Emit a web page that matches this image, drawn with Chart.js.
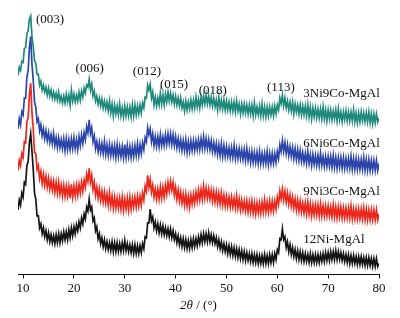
<!DOCTYPE html>
<html>
<head>
<meta charset="utf-8">
<script src="https://cdn.jsdelivr.net/npm/chart.js@4.4.1/dist/chart.umd.min.js"></script>
<style>
  body { margin: 0; background: #fff; }
  canvas { display: block; }
</style>
</head>
<body>
<canvas id="xrd" width="400" height="318"></canvas>
<script>
// 2θ grid of the traces: 9° .. 80° every 0.25°
const thetaStart = 9;
const thetaStep = 0.25;

// stacked intensities (offset already included), one row per degree
const ni3co9 = [
  201, 209, 206, 215,
  214, 228, 229, 243,
  246, 258, 261, 240,
  230, 216, 213, 202,
  202, 191, 195, 186,
  191, 184, 189, 181,
  188, 180, 186, 178,
  184, 177, 183, 176,
  184, 175, 180, 173,
  180, 173, 182, 174,
  181, 171, 186, 175,
  182, 174, 181, 175,
  184, 176, 185, 179,
  188, 183, 191, 189,
  197, 186, 192, 180,
  185, 175, 180, 172,
  178, 170, 177, 168,
  175, 167, 174, 165,
  175, 163, 172, 160,
  171, 162, 170, 161,
  172, 160, 168, 159,
  170, 160, 169, 160,
  169, 159, 171, 160,
  171, 161, 170, 162,
  171, 163, 173, 168,
  179, 178, 191, 186,
  192, 178, 184, 171,
  179, 170, 178, 171,
  183, 172, 181, 171,
  182, 174, 184, 175,
  183, 174, 181, 172,
  180, 171, 178, 170,
  178, 168, 174, 165,
  175, 166, 174, 167,
  176, 167, 176, 168,
  179, 169, 177, 168,
  179, 171, 180, 172,
  181, 172, 180, 171,
  179, 170, 178, 169,
  176, 166, 179, 168,
  176, 167, 176, 166,
  175, 166, 174, 165,
  174, 165, 174, 164,
  175, 165, 172, 162,
  172, 163, 172, 163,
  171, 162, 171, 162,
  171, 160, 173, 161,
  169, 161, 170, 160,
  172, 160, 169, 159,
  169, 160, 169, 161,
  169, 160, 170, 162,
  171, 166, 178, 172,
  181, 170, 178, 168,
  175, 166, 174, 165,
  174, 162, 172, 164,
  171, 162, 171, 161,
  170, 161, 170, 160,
  171, 159, 169, 157,
  168, 159, 168, 158,
  167, 158, 167, 157,
  169, 157, 166, 155,
  166, 157, 166, 156,
  165, 157, 166, 155,
  167, 156, 164, 154,
  164, 156, 165, 155,
  164, 155, 164, 155,
  166, 154, 163, 153,
  163, 154, 164, 155,
  163, 154, 163, 154,
  164, 153, 162, 152,
  162, 153, 162, 154,
  158
];

const ni6co6 = [
  147, 157, 151, 164,
  161, 178, 178, 199,
  206, 229, 240, 212,
  196, 174, 169, 154,
  157, 145, 151, 140,
  147, 137, 145, 135,
  143, 133, 141, 132,
  142, 130, 138, 128,
  138, 128, 136, 127,
  137, 125, 137, 126,
  136, 126, 137, 127,
  138, 127, 136, 126,
  139, 130, 141, 132,
  143, 136, 149, 143,
  156, 142, 148, 134,
  140, 127, 134, 124,
  133, 123, 132, 122,
  134, 121, 131, 120,
  131, 120, 130, 120,
  130, 118, 131, 119,
  129, 119, 129, 118,
  131, 118, 130, 119,
  129, 118, 129, 119,
  130, 120, 132, 120,
  131, 122, 133, 126,
  138, 134, 148, 141,
  147, 134, 142, 130,
  139, 129, 139, 129,
  141, 130, 139, 130,
  141, 131, 142, 132,
  142, 131, 141, 130,
  139, 128, 137, 127,
  136, 125, 135, 125,
  136, 123, 134, 124,
  135, 125, 135, 125,
  135, 126, 136, 126,
  137, 127, 139, 127,
  137, 127, 136, 126,
  135, 124, 133, 123,
  132, 121, 131, 120,
  132, 119, 130, 119,
  129, 119, 128, 118,
  128, 118, 130, 117,
  127, 117, 127, 117,
  126, 116, 126, 115,
  127, 115, 124, 113,
  124, 113, 123, 113,
  123, 112, 124, 112,
  122, 112, 122, 112,
  124, 111, 122, 112,
  122, 112, 122, 113,
  124, 117, 131, 124,
  135, 124, 133, 122,
  131, 120, 129, 119,
  128, 117, 127, 116,
  126, 115, 125, 114,
  123, 113, 122, 112,
  124, 112, 121, 110,
  121, 111, 120, 110,
  120, 110, 122, 110,
  119, 109, 119, 109,
  119, 109, 119, 108,
  120, 108, 118, 107,
  118, 108, 118, 107,
  118, 107, 117, 107,
  117, 107, 119, 106,
  117, 106, 117, 106,
  116, 106, 116, 106,
  118, 105, 116, 105,
  116, 105, 115, 105,
  115, 105, 115, 105,
  112
];

const ni9co3 = [
  105, 115, 110, 122,
  118, 134, 133, 154,
  158, 182, 193, 163,
  147, 123, 122, 106,
  110, 97, 104, 92,
  101, 90, 99, 88,
  97, 86, 95, 85,
  94, 83, 93, 82,
  93, 81, 90, 79,
  90, 79, 89, 79,
  89, 77, 91, 78,
  89, 79, 90, 80,
  91, 82, 93, 84,
  95, 88, 101, 94,
  107, 93, 100, 86,
  93, 80, 88, 77,
  86, 75, 84, 73,
  83, 72, 81, 70,
  82, 69, 79, 67,
  78, 67, 77, 67,
  77, 66, 78, 65,
  76, 66, 77, 65,
  78, 66, 77, 68,
  78, 68, 79, 69,
  79, 70, 82, 75,
  89, 84, 100, 88,
  96, 83, 90, 78,
  86, 76, 86, 76,
  88, 77, 88, 78,
  90, 81, 93, 84,
  94, 85, 93, 80,
  88, 76, 85, 74,
  83, 72, 81, 70,
  81, 69, 79, 68,
  80, 71, 81, 72,
  83, 74, 85, 75,
  86, 76, 89, 77,
  87, 77, 86, 76,
  85, 74, 84, 73,
  83, 72, 82, 71,
  82, 70, 80, 69,
  79, 69, 78, 68,
  78, 68, 77, 67,
  79, 67, 76, 65,
  75, 65, 74, 64,
  74, 63, 73, 63,
  74, 62, 72, 61,
  72, 62, 72, 62,
  73, 63, 75, 63,
  73, 63, 74, 64,
  74, 64, 74, 66,
  78, 71, 84, 76,
  86, 75, 84, 73,
  82, 71, 80, 69,
  78, 67, 76, 65,
  75, 64, 74, 63,
  72, 62, 72, 61,
  73, 61, 71, 59,
  70, 60, 70, 60,
  70, 59, 71, 59,
  69, 59, 69, 59,
  69, 59, 68, 58,
  70, 58, 68, 57,
  68, 58, 68, 57,
  67, 57, 67, 57,
  67, 57, 69, 56,
  66, 56, 66, 56,
  66, 56, 66, 56,
  67, 55, 66, 55,
  65, 55, 65, 55,
  65, 55, 65, 55,
  61
];

const ni12 = [
  65, 75, 70, 82,
  78, 93, 91, 110,
  114, 133, 142, 124,
  106, 82, 76, 59,
  59, 47, 51, 41,
  47, 38, 44, 35,
  42, 33, 40, 32,
  39, 31, 40, 32,
  41, 32, 41, 34,
  43, 35, 43, 35,
  45, 37, 47, 39,
  48, 41, 50, 44,
  53, 47, 57, 51,
  61, 56, 68, 64,
  76, 65, 68, 54,
  57, 44, 48, 36,
  41, 31, 37, 28,
  35, 26, 33, 25,
  32, 24, 33, 23,
  32, 23, 32, 23,
  31, 23, 32, 24,
  34, 24, 31, 23,
  30, 22, 30, 21,
  30, 21, 29, 21,
  29, 22, 31, 26,
  38, 37, 52, 52,
  66, 54, 58, 47,
  53, 44, 51, 42,
  50, 41, 49, 40,
  47, 39, 46, 38,
  46, 37, 44, 35,
  41, 32, 39, 30,
  37, 28, 36, 27,
  35, 26, 34, 26,
  35, 27, 36, 28,
  36, 29, 38, 31,
  40, 32, 41, 33,
  41, 33, 42, 33,
  40, 32, 39, 31,
  37, 28, 35, 26,
  33, 24, 31, 23,
  30, 21, 29, 20,
  28, 19, 27, 18,
  26, 17, 25, 16,
  24, 15, 23, 14,
  22, 14, 21, 13,
  21, 12, 20, 12,
  20, 11, 19, 11,
  19, 11, 20, 11,
  19, 11, 20, 12,
  20, 12, 21, 15,
  25, 22, 36, 35,
  46, 35, 38, 27,
  33, 23, 30, 20,
  27, 18, 25, 16,
  24, 15, 23, 14,
  22, 13, 21, 13,
  20, 12, 21, 12,
  20, 12, 20, 12,
  20, 12, 20, 13,
  21, 13, 22, 14,
  22, 14, 23, 15,
  23, 15, 24, 15,
  23, 15, 22, 14,
  21, 13, 20, 12,
  20, 11, 19, 11,
  19, 11, 18, 10,
  18, 10, 18, 10,
  17, 9, 17, 9,
  17, 9, 16, 8,
  16, 8, 16, 8,
  11
];

const sampleNames = ["3Ni9Co-MgAl", "6Ni6Co-MgAl", "9Ni3Co-MgAl", "12Ni-MgAl"];
const sampleData = [ni3co9, ni6co6, ni9co3, ni12];
const xTicks = [10, 20, 30, 40, 50, 60, 70, 80];

const peakNames = ["(003)", "(006)", "(012)", "(015)", "(018)", "(113)"];

// where the texts sit, in axis units
const peakAt = [[15.3, 257], [23.1, 208], [34.35, 205], [39.7, 192], [47.3, 186], [60.7, 189]];
const nameAt = [[65.1, 183], [65.1, 132], [65.1, 84], [65.1, 35]];

const colors = ["#1f8a7c", "#2c45aa", "#ea281b", "#151515"];
const serif = "'Liberation Serif', 'Times New Roman', serif";

const toPoints = (arr) => arr.map((v, i) => ({ x: thetaStart + i * thetaStep, y: v }));

const textPlugin = {
  id: "xrdText",
  afterDatasetsDraw(chart) {
    const { ctx, scales } = chart;
    const x = scales.x, y = scales.y;
    ctx.save();
    ctx.fillStyle = "#111";
    ctx.font = "13px " + serif;
    ctx.textBaseline = "middle";

    ctx.textAlign = "center";
    peakNames.forEach((t, i) => {
      ctx.fillText(t, x.getPixelForValue(peakAt[i][0]), y.getPixelForValue(peakAt[i][1]));
    });

    ctx.textAlign = "left";
    sampleNames.forEach((t, i) => {
      ctx.fillText(t, x.getPixelForValue(nameAt[i][0]), y.getPixelForValue(nameAt[i][1]));
    });

    // axis title: italic 2θ followed by upright " / (°)"
    const a = "2θ", b = " / (°)";
    ctx.font = "italic 13px " + serif;
    const wa = ctx.measureText(a).width;
    ctx.font = "13px " + serif;
    const wb = ctx.measureText(b).width;
    const cx = (chart.chartArea.left + chart.chartArea.right) / 2;
    const ty = chart.chartArea.bottom + 31;
    ctx.textAlign = "left";
    ctx.font = "italic 13px " + serif;
    ctx.fillText(a, cx - (wa + wb) / 2, ty);
    ctx.font = "13px " + serif;
    ctx.fillText(b, cx - (wa + wb) / 2 + wa, ty);
    ctx.restore();
  }
};

new Chart(document.getElementById("xrd"), {
  type: "line",
  data: {
    datasets: sampleData.map((arr, i) => ({
      label: sampleNames[i],
      data: toPoints(arr),
      borderColor: colors[i],
      borderWidth: 1.7,
      pointRadius: 0,
      tension: 0,
      order: 3 - i
    }))
  },
  options: {
    responsive: false,
    animation: false,
    devicePixelRatio: 1,
    layout: { padding: { left: 18, right: 21, top: 0, bottom: 20 } },
    plugins: { legend: { display: false }, tooltip: { enabled: false } },
    scales: {
      x: {
        type: "linear",
        min: 9,
        max: 80,
        afterBuildTicks: (scale) => { scale.ticks = xTicks.map((v) => ({ value: v })); },
        grid: { drawOnChartArea: false, tickLength: 4, color: "#111", tickColor: "#111" },
        border: { color: "#111", width: 1 },
        ticks: { color: "#111", font: { family: serif, size: 13 }, padding: 2, maxRotation: 0 }
      },
      y: {
        display: false,
        min: 0,
        max: 277
      }
    }
  },
  plugins: [textPlugin]
});
</script>
</body>
</html>
